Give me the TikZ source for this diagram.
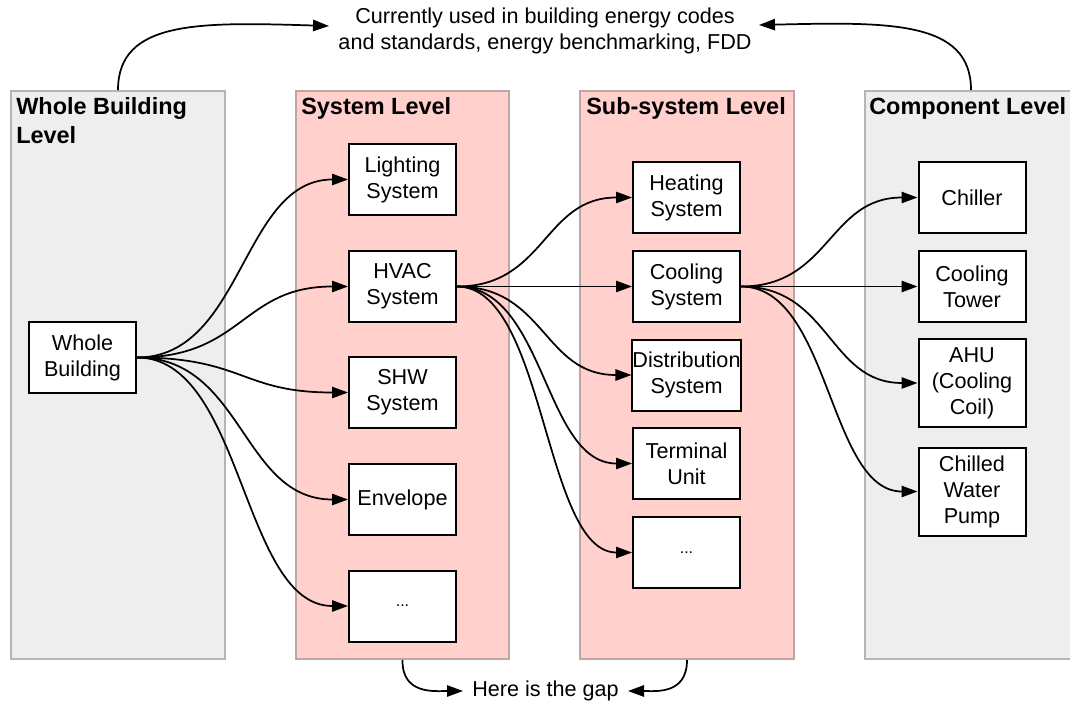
\documentclass[tikz,border=0pt]{standalone}
\usepackage{fontspec}
\setmainfont{Liberation Sans}
\usetikzlibrary{arrows.meta,calc}
\definecolor{pgray}{HTML}{EEEEEE}
\definecolor{pgrayb}{HTML}{B5B5B5}
\definecolor{ppink}{HTML}{FFD0CC}
\definecolor{ppinkb}{HTML}{BFA5A3}
\begin{document}
\begin{tikzpicture}[x=0.75pt,y=-0.75pt,
  panel/.style={line width=1.5pt, inner sep=0pt, minimum height=426pt},
  box/.style={draw=black, fill=white, line width=1.5pt, minimum width=80.25pt,
    minimum height=53.25pt, inner sep=0pt, align=center,
    font=\fontsize{16.2}{19.5}\selectfont},
  tallbox/.style={box, minimum height=66pt},
  conn/.style={line width=1.3pt, -{Triangle[length=12pt,width=8.5pt]}},
  hdr/.style={anchor=north west, inner sep=0pt, align=left,
    font=\fontsize{17.6}{21.75}\selectfont\bfseries},
  txt/.style={inner sep=0pt, align=center, font=\fontsize{16.2}{19.5}\selectfont}]
\useasboundingbox (0,0) rectangle (1070,702);

% panels
\node[panel, draw=pgrayb, fill=pgray, minimum width=160.5pt] (pwb) at (118,375) {};
\node[panel, draw=ppinkb, fill=ppink, minimum width=159.75pt] (psys) at (402.5,375) {};
\node[panel, draw=ppinkb, fill=ppink, minimum width=160.5pt] (psub) at (687,375) {};
\node[panel, draw=pgrayb, fill=pgray, minimum width=159pt] (pcomp) at (971,375) {};

% headers
\node[hdr] (hwb) at (16,97) {Whole Building\\Level};
\node[hdr] (hsys) at (301,97) {System Level};
\node[hdr] (hsub) at (586,97) {Sub-system Level};
\node[hdr] (hcomp) at (869,97) {Component Level};

% boxes
\node[box] (wb) at (82.5,357.5) {Whole\\Building};
\node[box] (light) at (402.5,179.5) {Lighting\\System};
\node[box] (hvac) at (402.5,286.5) {HVAC\\System};
\node[box] (shw) at (402.5,392.5) {SHW\\System};
\node[box] (env) at (402.5,499.5) {Envelope};
\node[box] (sdots) at (402.5,606) {\fontsize{12}{13}\selectfont ...};
\node[box] (heat) at (686.5,197.5) {Heating\\System};
\node[box] (cool) at (686.5,286.5) {Cooling\\System};
\node[box] (dist) at (686.5,375) {Distribution\\System};
\node[box] (term) at (686.5,463.5) {Terminal\\Unit};
\node[box] (ssdots) at (686.5,552.5) {\fontsize{12}{13}\selectfont ...};
\node[box] (chiller) at (972,197.5) {Chiller};
\node[box] (tower) at (972,286.5) {Cooling\\Tower};
\node[tallbox] (ahu) at (972,383) {AHU\\(Cooling\\Coil)};
\node[tallbox] (pump) at (972,491.5) {Chilled\\Water\\Pump};

% connectors
\foreach \t in {light,hvac,shw,env,sdots}
  \draw[conn] (wb.east) .. controls +(106.5,0) and +(-106.5,0) .. (\t.west);
\foreach \t in {heat,cool,dist,term,ssdots}
  \draw[conn] (hvac.east) .. controls +(88.5,0) and +(-88.5,0) .. (\t.west);
\foreach \t in {chiller,tower,ahu,pump}
  \draw[conn] (cool.east) .. controls +(89,0) and +(-89,0) .. (\t.west);

% top note
\node[txt] (top) at (545,31) {Currently used in building energy codes\\and standards, energy benchmarking, FDD};
\coordinate (tl) at (329,26);
\coordinate (tr) at (759,25);
\draw[conn] (pwb.north) .. controls (118,20) and (200,22) .. (tl);
\draw[conn] (pcomp.north) .. controls (971,20) and (888,22) .. (tr);

% bottom note
\node[txt, anchor=west] (gap) at (472,691) {Here is the gap};
\coordinate (bl) at (463,691);
\coordinate (br) at (628,691);
\draw[conn] (psys.south) .. controls (402,695) and (435,691) .. (bl);
\draw[conn] (psub.south) .. controls (687,695) and (655,691) .. (br);
\end{tikzpicture}
\end{document}
